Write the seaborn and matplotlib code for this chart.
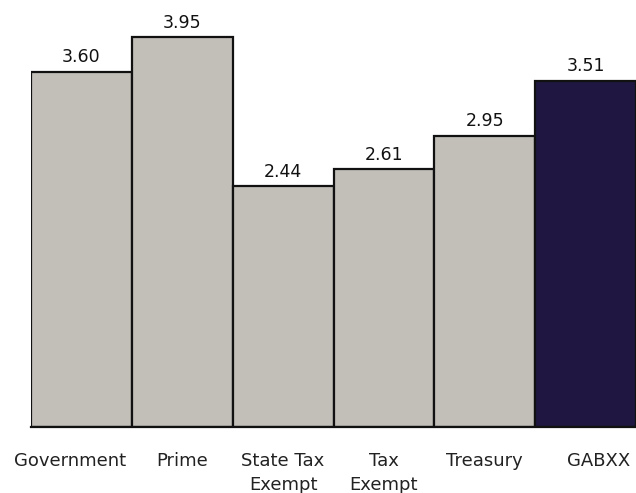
import matplotlib
matplotlib.use("Agg")
import matplotlib.pyplot as plt
import matplotlib.transforms as mtransforms
import seaborn as sns
import pandas as pd

categories = ["Government", "Prime", "State Tax\nExempt", "Tax\nExempt", "Treasury", "GABXX"]
yields = [3.60, 3.95, 2.44, 2.61, 2.95, 3.51]
bar_colors = ["#C3C0B8", "#C3C0B8", "#C3C0B8", "#C3C0B8", "#C3C0B8", "#1A1048"]

df = pd.DataFrame({"category": categories, "value": yields})

sns.set_style("white")
plt.rcParams["font.family"] = ["DejaVu Sans"]

fig = plt.figure(figsize=(6.36, 4.93), dpi=100)
ax = fig.add_axes([31 / 636, 66 / 493, 605 / 636, 427 / 493])

sns.barplot(data=df, x="category", y="value", hue="category", palette=bar_colors,
            legend=False, width=1.0, edgecolor="#111111", linewidth=1.6, ax=ax)

for c in ax.containers:
    ax.bar_label(c, fmt="%.2f", padding=4, fontsize=12.5, color="#111111")

ax.set_xlim(-0.5, 5.5)
ax.set_ylim(0, 4.326)
ax.set_xlabel("")
ax.set_ylabel("")
ax.set_yticks([])
for s in ["top", "right", "left"]:
    ax.spines[s].set_visible(False)
ax.spines["bottom"].set_linewidth(1.6)
ax.spines["bottom"].set_color("#111111")

ax.tick_params(axis="x", length=0, pad=18)
labels = ax.get_xticklabels()
for lab in labels:
    lab.set_fontsize(13)
    lab.set_color("#222222")
    lab.set_linespacing(1.4)
    lab.set_verticalalignment("top")
shifts = {0: -11, 5: 13}
for i, dx in shifts.items():
    off = mtransforms.ScaledTranslation(dx / 100, 0, fig.dpi_scale_trans)
    labels[i].set_transform(labels[i].get_transform() + off)

fig.savefig("out.png", dpi=100)
